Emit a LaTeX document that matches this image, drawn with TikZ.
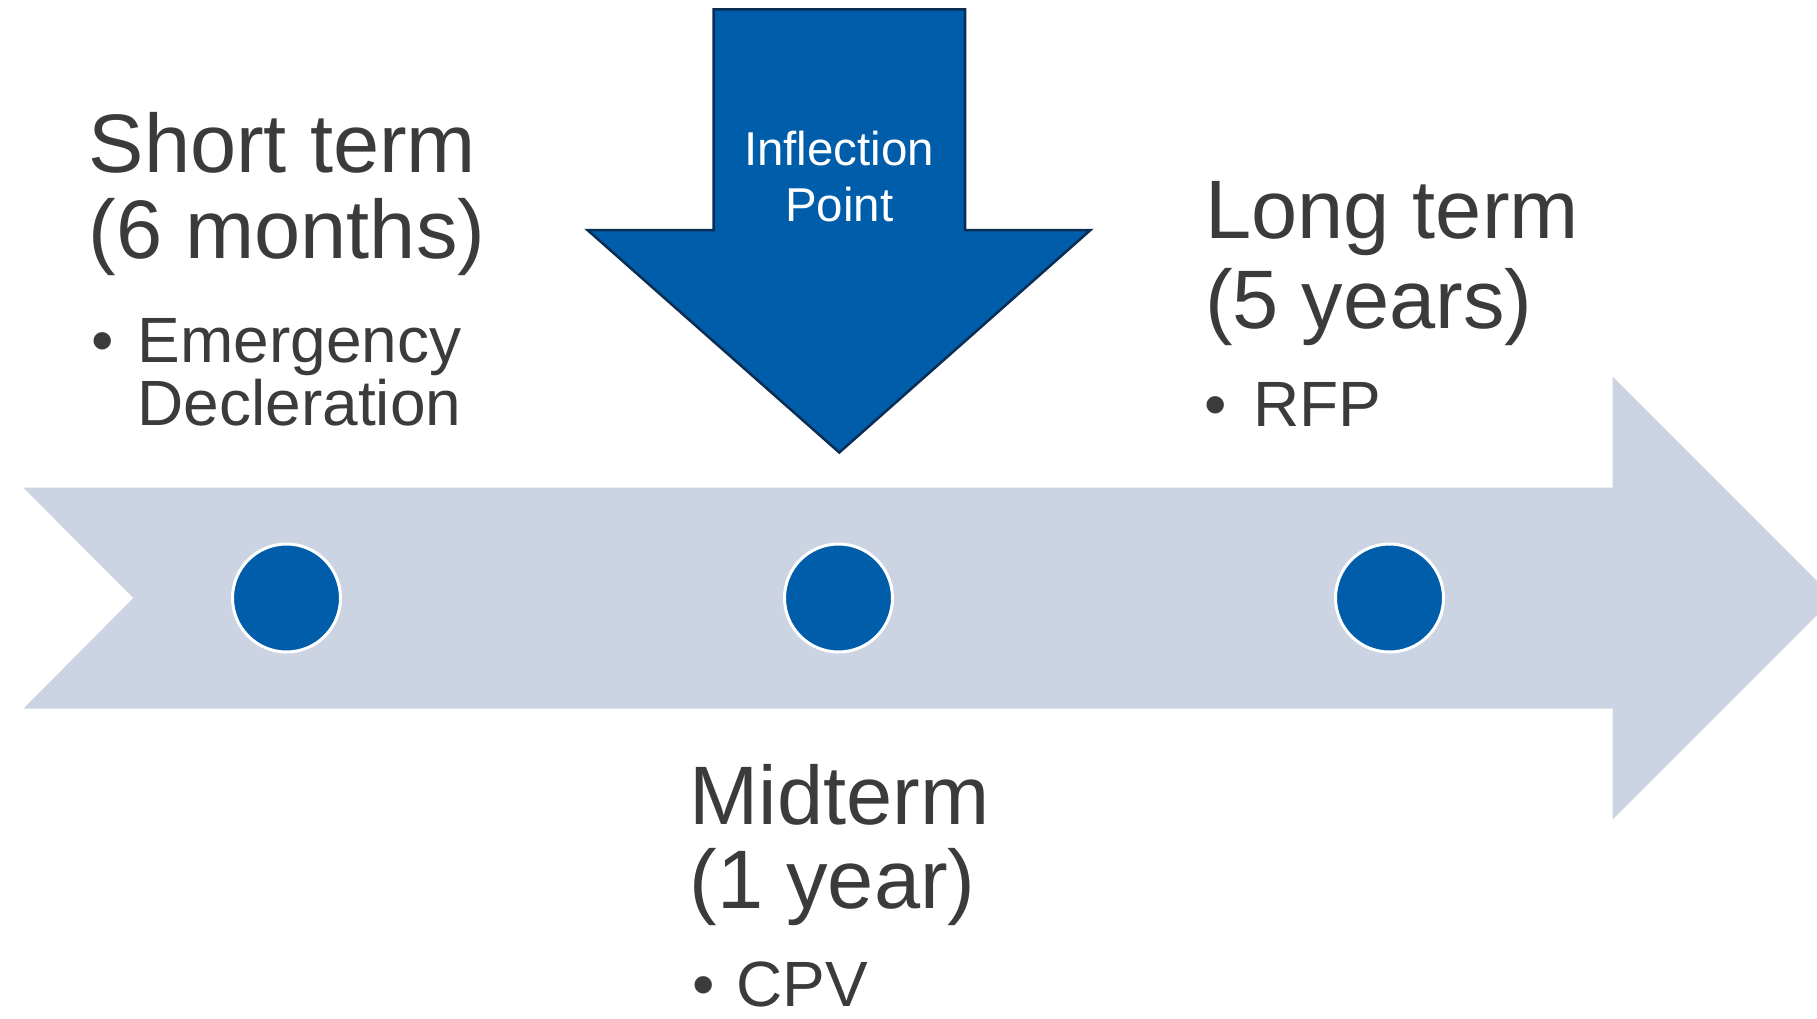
\documentclass[tikz,border=0pt]{standalone}
\usepackage{fontspec}
\setmainfont{Liberation Sans}
\definecolor{bandgray}{RGB}{204,211,227}
\definecolor{dotblue}{RGB}{0,93,170}
\definecolor{navyline}{RGB}{12,45,83}
\definecolor{ink}{RGB}{59,59,59}
\begin{document}
\begin{tikzpicture}[x=1pt,y=-1pt,
  titletext/.style={anchor=base west, inner sep=0pt, text=ink, font=\fontsize{83}{83}\selectfont},
  itemtext/.style={anchor=base west, inner sep=0pt, text=ink, font=\fontsize{64}{64}\selectfont},
  bullettext/.style={anchor=base, inner sep=0pt, text=ink, font=\fontsize{64}{64}\selectfont},
  milestone/.style={circle, fill=dotblue, draw=white, line width=3pt, minimum size=108pt, inner sep=0pt},
  infltext/.style={anchor=base, inner sep=0pt, text=white, font=\fontsize{47.5}{47.5}\selectfont}
]
\useasboundingbox (0,0) rectangle (1817,1018);
\clip (0,0) rectangle (1817,1018);
% timeline band arrow
\fill[bandgray] (23.3,487.7) -- (1612.7,487.7) -- (1612.7,376.7) -- (1834,598)
  -- (1612.7,819.3) -- (1612.7,708.7) -- (23.3,708.7) -- (133.3,598) -- cycle;
% milestones
\node[milestone] (c1) at (286.5,598) {};
\node[milestone] (c2) at (838.5,598) {};
\node[milestone] (c3) at (1389.5,598) {};
% inflection arrow
\filldraw[fill=dotblue, draw=navyline, line width=2.5pt, line join=miter]
  (713.5,9.3) -- (965,9.3) -- (965,230) -- (1090.5,230) -- (839.3,452.5)
  -- (587.5,230) -- (713.5,230) -- cycle;
\node[infltext] (i1) at (839.2,165) {Inflection};
\node[infltext] (i2) at (839.2,221.7) {Point};
% short term
\node[titletext] (s1) at (88.5,172) {Short term};
\node[titletext] (s2) at (88.5,258) {(6 months)};
\node[bullettext] (sb) at (102.5,362) {•};
\node[itemtext] (s3) at (137.5,362) {Emergency};
\node[itemtext] (s4) at (137.5,425) {Decleration};
% long term
\node[titletext] (l1) at (1205,238.3) {Long term};
\node[titletext] (l2) at (1205,328.3) {(5 years)};
\node[bullettext] (lb) at (1216,426.7) {•};
\node[itemtext] (l3) at (1253,426.7) {RFP};
% midterm
\node[titletext] (m1) at (689.5,824) {Midterm};
\node[titletext] (m2) at (689.5,908.3) {(1 year)};
\node[bullettext] (mb) at (703.5,1006.7) {•};
\node[itemtext] (m3) at (736,1006.7) {CPV};
\end{tikzpicture}
\end{document}
